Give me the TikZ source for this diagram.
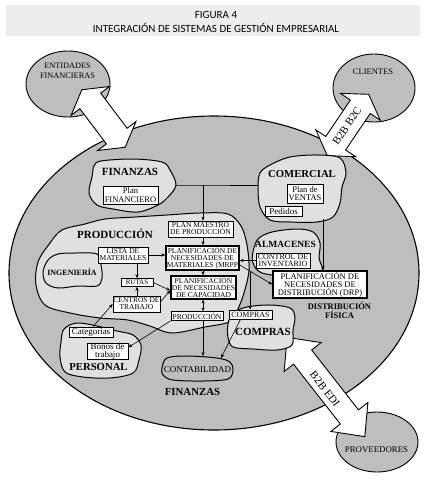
\documentclass[tikz,border=0pt]{standalone}
\usepackage{fontspec}
\setmainfont{Liberation Serif}
\newfontfamily\titlefont{Carlito}
\usetikzlibrary{arrows.meta,calc}
\definecolor{bgray}{RGB}{190,190,190}
\definecolor{blobgray}{RGB}{224,224,224}
\definecolor{bandgray}{RGB}{237,237,237}
\newcommand\fatarrowdraw[7]{%
\begin{scope}[shift={(#1,#2)}, rotate=#3]
\draw[fill=white, line width=0.9pt, line join=miter]
 (-#4,0) -- (-#4+#7,#6) -- (-#4+#7,#5) -- (#4-#7,#5) -- (#4-#7,#6) -- (#4,0)
 -- (#4-#7,-#6) -- (#4-#7,-#5) -- (-#4+#7,-#5) -- (-#4+#7,-#6) -- cycle;
\end{scope}}
\begin{document}
\begin{tikzpicture}[x=1pt,y=-1pt,
  box/.style={draw, fill=white, line width=0.7pt, inner sep=0pt, align=center},
  tbox/.style={box, line width=1.4pt},
  blobline/.style={draw=black, line width=1pt, fill=blobgray},
  ttl/.style={inner sep=0pt, align=center},
  arr/.style={-{Stealth[length=4pt,width=3.2pt]}, line width=0.6pt},
  darr/.style={{Stealth[length=3.5pt,width=3pt]}-{Stealth[length=3.5pt,width=3pt]}, line width=0.6pt},
  conn/.style={line width=0.6pt}]
\useasboundingbox (0,0) rectangle (432,480);
\fill[white] (0,0) rectangle (432,480);
% title band
\fill[bandgray] (6,5) rectangle (420,36);
\node[ttl, font=\titlefont\fontsize{11}{11}\selectfont] (fig) at (216,15) {FIGURA 4};
\node[ttl, font=\titlefont\fontsize{11}{11}\selectfont] (figt) at (216,28) {INTEGRACIÓN DE SISTEMAS DE GESTIÓN EMPRESARIAL};
% main ellipse and outer ellipses
\draw[fill=bgray, line width=1.1pt] (214,273) ellipse [x radius=205, y radius=157];
\draw[fill=bgray, line width=0.9pt] (68,84) ellipse [x radius=42, y radius=33];
\draw[fill=bgray, line width=0.9pt] (374,88) ellipse [x radius=41, y radius=34];
\draw[fill=bgray, line width=0.9pt] (377,442) ellipse [x radius=41, y radius=30];
\node[ttl, font=\fontsize{8.3}{9.5}\selectfont] (ent) at (67.5,71) {ENTIDADES\\FINANCIERAS};
\node[ttl, font=\fontsize{8.5}{9}\selectfont] (cli) at (373,72) {CLIENTES};
\node[ttl, font=\fontsize{8.8}{9}\selectfont] (prov) at (376.5,450) {PROVEEDORES};
% fat double arrows
\fatarrowdraw{103.5}{118.5}{-53}{36}{13}{24}{14}
\fatarrowdraw{348}{125}{56}{37}{12}{24}{15}
\fatarrowdraw{326}{387}{-52}{63}{11.5}{23.5}{25}
\node[ttl, rotate=56, font=\fontsize{11}{11}\selectfont] (b2c) at (347,126) {B2B B2C};
\node[ttl, rotate=-52, font=\fontsize{11}{11}\selectfont] (edi) at (325,389) {B2B EDI};
% blobs
\draw[blobline] plot[smooth cycle, tension=0.55] coordinates {(36,285) (38,262) (50,243) (62,230) (85,224) (105,219) (135,217) (167,215) (200,213) (228,214) (241,226) (247,245) (249,270) (244,293) (237,311) (229,322) (205,327) (172,333) (150,326) (128,320) (100,318) (70,313) (45,305)};
\draw[blobline] plot[smooth cycle, tension=0.55] coordinates {(43,272) (48,260) (58,254) (75,253) (97,254) (101,265) (102,278) (97,286) (78,286) (58,288) (46,283)};
\draw[blobline] plot[smooth cycle, tension=0.55] coordinates {(89,193) (92,177) (94,166) (101,161) (133,159) (162,162) (170,170) (176,185) (168,197) (158,205) (138,212) (113,209) (97,205)};
\draw[blobline] plot[smooth cycle, tension=0.55] coordinates {(258,188) (260,173) (270,165) (290,157) (317,155) (340,158) (346,173) (342,187) (340,203) (333,217) (317,222) (290,222) (270,220) (260,207)};
\draw[blobline] plot[smooth cycle, tension=0.55] coordinates {(253,252) (258,239) (272,232) (297,229) (313,232) (320,243) (319,258) (321,272) (290,276) (262,273) (253,263)};
\draw[blobline] plot[smooth cycle, tension=0.55] coordinates {(61,342) (64,329) (77,323) (97,326) (117,331) (133,335) (141,345) (139,360) (133,373) (110,378) (83,377) (65,372) (60,357)};
\draw[blobline] plot[smooth cycle, tension=0.55] coordinates {(228,324) (233,313) (247,307) (270,305) (290,308) (295,317) (293,330) (292,345) (277,350) (253,349) (233,347) (228,337)};
\draw[blobline, fill=bgray] plot[smooth cycle, tension=0.55] coordinates {(162,368) (167,358) (187,356) (217,358) (230,362) (233,370) (228,379) (203,381) (173,380) (163,375)};
% titles
\node[ttl, font=\fontsize{11}{11}\selectfont\bfseries] (finT) at (130,172) {FINANZAS};
\node[ttl, font=\fontsize{10.7}{11}\selectfont\bfseries] (comT) at (302,174) {COMERCIAL};
\node[ttl, font=\fontsize{11}{11}\selectfont\bfseries] (prodT) at (115,234) {PRODUCCIÓN};
\node[ttl, font=\fontsize{9.5}{10}\selectfont\bfseries] (almT) at (285.5,244) {ALMACENES};
\node[ttl, font=\fontsize{8}{8}\selectfont\bfseries] (ingT) at (72,272) {INGENIERÍA};
\node[ttl, font=\fontsize{10.7}{11}\selectfont\bfseries] (perT) at (98.5,367) {PERSONAL};
\node[ttl, font=\fontsize{11}{11}\selectfont\bfseries] (compT) at (263,332) {COMPRAS};
\node[ttl, font=\fontsize{9}{9}\selectfont] (contT) at (197.5,370) {CONTABILIDAD};
\node[ttl, font=\fontsize{10.8}{11}\selectfont\bfseries] (fin2T) at (192.5,392) {FINANZAS};
\node[ttl, font=\fontsize{8.5}{9}\selectfont\bfseries] (distT) at (339.5,310) {DISTRIBUCIÓN\\FÍSICA};
% boxes
\node[box, minimum width=55pt, minimum height=18pt, font=\fontsize{8.5}{8.5}\selectfont] (planfin) at (130.5,195) {Plan\\FINANCIERO};
\node[box, minimum width=36pt, minimum height=19pt, font=\fontsize{8.5}{8.5}\selectfont] (planventas) at (305,193.5) {Plan de\\VENTAS};
\node[box, minimum width=37pt, minimum height=10pt, font=\fontsize{9}{9}\selectfont] (pedidos) at (283.5,211) {Pedidos};
\node[box, minimum width=65pt, minimum height=16pt, font=\fontsize{7.5}{7}\selectfont] (planmaestro) at (200.5,229) {PLAN MAESTRO\\DE PRODUCCIÓN};
\node[tbox, minimum width=73pt, minimum height=24pt, font=\fontsize{7.5}{7}\selectfont] (mrpp) at (202.5,258) {PLANIFICACIÓN DE\\NECESIDADES DE\\MATERIALES (MRPP};
\node[tbox, minimum width=65pt, minimum height=23pt, font=\fontsize{7.5}{7}\selectfont] (capac) at (203.5,287.5) {PLANIFICACIÓN\\DE NECESIDADES\\DE CAPACIDAD};
\node[box, minimum width=52pt, minimum height=9pt, font=\fontsize{7.5}{7.5}\selectfont] (prodbox) at (197,316) {PRODUCCIÓN};
\node[box, minimum width=43pt, minimum height=9pt, font=\fontsize{8}{8}\selectfont] (compbox) at (250.5,314.5) {COMPRAS};
\node[box, minimum width=50pt, minimum height=16pt, font=\fontsize{7.5}{7}\selectfont] (lista) at (123,255) {LISTA DE\\MATERIALES};
\node[box, minimum width=32pt, minimum height=8pt, font=\fontsize{7}{7}\selectfont] (rutas) at (137,282.5) {RUTAS};
\node[box, minimum width=47pt, minimum height=16pt, font=\fontsize{7.5}{7}\selectfont] (centros) at (136.5,304) {CENTROS DE\\TRABAJO};
\node[box, minimum width=44pt, minimum height=10pt, font=\fontsize{9}{9}\selectfont] (categorias) at (91,332) {Categorias};
\node[box, minimum width=41pt, minimum height=16pt, font=\fontsize{9}{8}\selectfont] (bonos) at (107.5,351) {Bonos de\\trabajo};
\node[box, minimum width=54pt, minimum height=15pt, font=\fontsize{8}{7}\selectfont] (control) at (283,260.5) {CONTROL DE\\INVENTARIO};
\node[tbox, minimum width=94pt, minimum height=27pt, font=\fontsize{8.5}{8}\selectfont] (drp) at (320,284.5) {PLANIFICACIÓN DE\\NECESIDADES DE\\DISTRIBUCIÓN (DRP)};
% connector anchors
\coordinate (finR) at (176,185);
\coordinate (comL) at (258,185);
\coordinate (J) at (203,185);
\coordinate (comB) at (323,219);
\coordinate (contTop) at (203,356);
\coordinate (contTR) at (221,358);
% connectors
\draw[conn] (finR) -- (J) -- (comL);
\draw[arr] (J) -- (J |- planmaestro.north);
\draw[arr] (planmaestro.south -| J) -- (mrpp.north -| J);
\draw[arr] (mrpp.south -| J) -- (capac.north -| J);
\draw[darr] (capac.south -| J) -- (prodbox.north -| J);
\draw[arr] (prodbox.south -| J) -- (contTop);
\draw[arr] ($(compbox.south)+(-10,0)$) -- (contTR);
\draw[arr] (prodbox.south west) -- (bonos.10);
\draw[arr] ($(categorias.north)+(2,0)$) -- (centros.west);
\draw[arr] (lista.east) -- (lista.east -| mrpp.west);
\draw[arr] (rutas.north |- lista.south) -- (rutas.north);
\draw[arr] (centros.north -| rutas.south) -- (rutas.south);
\coordinate (capIn) at ($(capac.west)+(0,3)$);
\draw[arr] (rutas.east) -- (capIn);
\draw[arr] ($(centros.east)+(0,-2)$) -- (capIn);
\draw[arr] (control.west) -- (control.west -| mrpp.east);
\coordinate (mrppOut) at ($(mrpp.east)+(0,7)$);
\draw[arr] (mrppOut) -- coordinate[pos=0.32] (br) (drp.west);
\draw[arr] (br) -- (br |- compbox.north);
\draw[arr] (comB) -- (comB |- drp.north);
\end{tikzpicture}
\end{document}
